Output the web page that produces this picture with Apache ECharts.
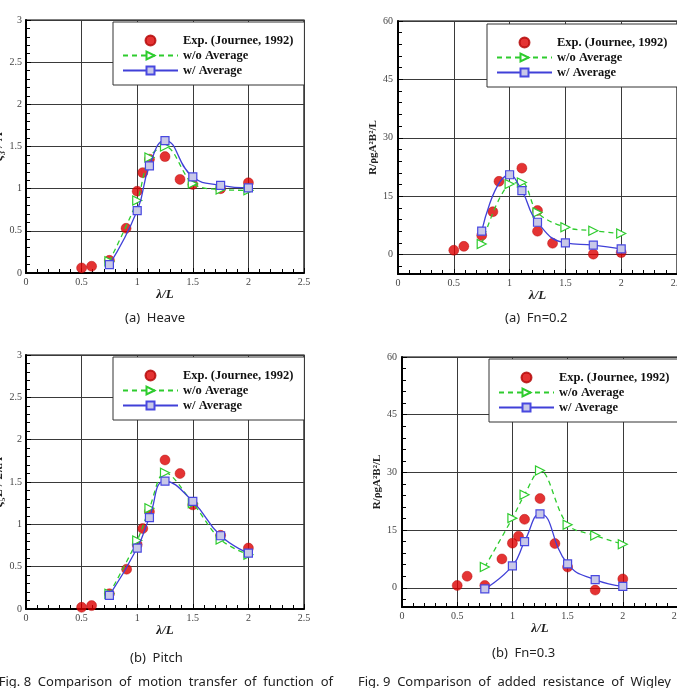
<!DOCTYPE html>
<html>
<head>
<meta charset="utf-8">
<script src="https://cdn.jsdelivr.net/npm/echarts@6/dist/echarts.min.js"></script>
<style>
  html, body { margin: 0; padding: 0; background: #fff; }
  #main { width: 677px; height: 688px; }
</style>
</head>
<body>
<div id="main"></div>
<script>
// simulation wave lengths (shared by both computed series)
const simX = [0.75, 1.0, 1.11, 1.25, 1.5, 1.75, 2.0];

// (a) Heave
const heaveExpX = [0.5, 0.59, 0.75, 0.9, 1.0, 1.05, 1.11, 1.25, 1.385, 1.5, 1.75, 2.0];
const heaveExpY = [0.06, 0.08, 0.15, 0.53, 0.97, 1.19, 1.35, 1.38, 1.11, 1.05, 1.0, 1.07];
const heaveNoAvg = [0.14, 0.86, 1.37, 1.5, 1.06, 0.99, 0.98];
const heaveAvg = [0.10, 0.74, 1.27, 1.57, 1.14, 1.04, 1.01];

// (b) Pitch
const pitchExpX = [0.5, 0.59, 0.75, 0.905, 1.0, 1.05, 1.11, 1.25, 1.385, 1.5, 1.75, 2.0];
const pitchExpY = [0.02, 0.04, 0.18, 0.47, 0.76, 0.95, 1.15, 1.76, 1.6, 1.23, 0.87, 0.72];
const pitchNoAvg = [0.18, 0.81, 1.19, 1.61, 1.25, 0.82, 0.64];
const pitchAvg = [0.16, 0.72, 1.08, 1.51, 1.27, 0.865, 0.66];

// (a) Fn=0.2 added resistance
const fn2ExpX = [0.5, 0.59, 0.75, 0.85, 0.905, 1.11, 1.25, 1.25, 1.385, 1.75, 2.0];
const fn2ExpY = [1.1, 2.1, 4.9, 11.0, 18.8, 22.2, 11.3, 6.0, 2.9, 0.1, 0.5];
const fn2NoAvg = [2.7, 18.1, 18.5, 10.8, 7.0, 6.1, 5.4];
const fn2Avg = [6.0, 20.5, 16.4, 8.3, 3.0, 2.4, 1.45];

// (b) Fn=0.3 added resistance
const fn3ExpX = [0.5, 0.59, 0.75, 0.905, 1.0, 1.055, 1.11, 1.25, 1.385, 1.5, 1.75, 2.0];
const fn3ExpY = [0.6, 3.0, 0.6, 7.5, 11.6, 13.4, 17.8, 23.2, 11.5, 5.4, -0.6, 2.3];
const fn3NoAvg = [5.4, 18.1, 24.2, 30.5, 16.4, 13.6, 11.3];
const fn3Avg = [-0.3, 5.7, 12.0, 19.2, 6.2, 2.1, 0.35];

const names = ['Exp. (Journee, 1992)', 'w/o Average', 'w/ Average'];
const serif = 'Liberation Serif';

function pairs(xs, ys) {
  return xs.map((x, i) => [x, ys[i]]);
}

const panels = [
  { grid: { left: 26, top: 20, width: 278, height: 253 }, legend: [113, 22],
    yName: 'ξ₃ / A', yGap: 17, motion: true,
    exp: pairs(heaveExpX, heaveExpY), noAvg: pairs(simX, heaveNoAvg), avg: pairs(simX, heaveAvg) },
  { grid: { left: 398, top: 21, width: 279, height: 253 }, legend: [487, 24],
    yName: 'R/ρgA²B²/L', yGap: 17, motion: false,
    exp: pairs(fn2ExpX, fn2ExpY), noAvg: pairs(simX, fn2NoAvg), avg: pairs(simX, fn2Avg) },
  { grid: { left: 26, top: 355, width: 278, height: 254 }, legend: [113, 357],
    yName: 'ξ₅L / 2πA', yGap: 17, motion: true,
    exp: pairs(pitchExpX, pitchExpY), noAvg: pairs(simX, pitchNoAvg), avg: pairs(simX, pitchAvg) },
  { grid: { left: 402, top: 357, width: 276, height: 250 }, legend: [489, 359],
    yName: 'R/ρgA²B²/L', yGap: 19, motion: false,
    exp: pairs(fn3ExpX, fn3ExpY), noAvg: pairs(simX, fn3NoAvg), avg: pairs(simX, fn3Avg) }
];

const axisCommon = {
  axisLine: { show: true, onZero: false, lineStyle: { color: '#000', width: 2 } },
  axisTick: { show: true, inside: true, length: 5, lineStyle: { color: '#000' } },
  minorTick: { show: true, splitNumber: 5, length: 4, lineStyle: { color: '#000' } },
  splitLine: { show: true, lineStyle: { color: '#3a3a3a', width: 1 } }
};
const labelStyle = { fontFamily: serif, fontSize: 10, color: '#444' };

const grid = [], xAxis = [], yAxis = [], legend = [], series = [];

panels.forEach((p, i) => {
  grid.push(Object.assign({
    show: true, borderColor: '#000', borderWidth: 1.2,
    containLabel: false, outerBoundsMode: 'none'
  }, p.grid));

  xAxis.push(Object.assign({
    gridIndex: i, type: 'value', min: 0, max: 2.5, interval: 0.5,
    name: 'λ/L', nameLocation: 'middle', nameGap: 14,
    nameTextStyle: { fontFamily: serif, fontStyle: 'italic', fontWeight: 'bold', fontSize: 13, color: '#222' },
    axisLabel: Object.assign({ margin: 4 }, labelStyle)
  }, axisCommon));

  const y = {
    gridIndex: i, type: 'value',
    name: p.yName, nameLocation: 'middle', nameGap: p.yGap, nameRotate: 90
  };
  if (p.motion) {
    Object.assign(y, {
      min: 0, max: 3, interval: 0.5,
      nameTextStyle: { fontFamily: serif, fontStyle: 'italic', fontWeight: 'bold', fontSize: 13, color: '#222' },
      axisLabel: Object.assign({ margin: 4 }, labelStyle)
    });
  } else {
    Object.assign(y, {
      min: -5, max: 60, minInterval: 15, maxInterval: 15,
      nameTextStyle: { fontFamily: serif, fontWeight: 'bold', fontSize: 11, color: '#222' },
      axisLabel: Object.assign({ margin: 5, formatter: v => (v < 0 ? '' : String(v)) }, labelStyle)
    });
  }
  yAxis.push(Object.assign(y, axisCommon));

  legend.push({
    left: p.legend[0], top: p.legend[1], orient: 'vertical',
    itemWidth: 55, itemHeight: 10, itemGap: 2,
    padding: [12, 11, 8, 9],
    borderColor: '#333', borderWidth: 1, backgroundColor: '#fff',
    selectedMode: false,
    textStyle: { fontFamily: serif, fontWeight: 'bold', fontSize: 12.5, color: '#111' },
    data: names
  });

  series.push({
    type: 'scatter', name: names[0], xAxisIndex: i, yAxisIndex: i,
    symbol: 'circle', symbolSize: 10, z: 2,
    itemStyle: { color: '#dd0000', borderColor: '#b00000', borderWidth: 0.5 },
    data: p.exp
  });
  series.push({
    type: 'line', name: names[1], xAxisIndex: i, yAxisIndex: i,
    smooth: 0.35, symbol: 'triangle', symbolRotate: -90, symbolSize: 9, z: 3,
    lineStyle: { color: '#2ecc2e', width: 1.3, type: [5, 4] },
    itemStyle: { color: '#ffffff', borderColor: '#2ecc2e', borderWidth: 1.2 },
    data: p.noAvg
  });
  series.push({
    type: 'line', name: names[2], xAxisIndex: i, yAxisIndex: i,
    smooth: 0.5, symbol: 'rect', symbolSize: 8, z: 4,
    lineStyle: { color: '#4040d8', width: 1.3 },
    itemStyle: { color: '#c8c8e8', borderColor: '#4848e0', borderWidth: 1.2 },
    data: p.avg
  });
});

const capFont = '13px "Noto Sans"';
const graphic = [
  { type: 'text', left: 125, top: 312, style: { text: '(a)  Heave', font: capFont, fill: '#222' } },
  { type: 'text', left: 505, top: 312, style: { text: '(a)  Fn=0.2', font: capFont, fill: '#222' } },
  { type: 'text', left: 130, top: 652, style: { text: '(b)  Pitch', font: capFont, fill: '#222' } },
  { type: 'text', left: 492, top: 647, style: { text: '(b)  Fn=0.3', font: capFont, fill: '#222' } },
  { type: 'text', x: 333, y: 676, style: { text: 'Fig. 8  Comparison  of  motion  transfer  of  function  of', font: capFont, fill: '#222', align: 'right' } },
  { type: 'text', x: 358, y: 676, style: { text: 'Fig. 9  Comparison  of  added  resistance  of  Wigley', font: capFont, fill: '#222' } }
];

const chart = echarts.init(document.getElementById('main'));
chart.setOption({
  animation: false,
  backgroundColor: '#fff',
  grid, xAxis, yAxis, legend, series, graphic
});
</script>
</body>
</html>
